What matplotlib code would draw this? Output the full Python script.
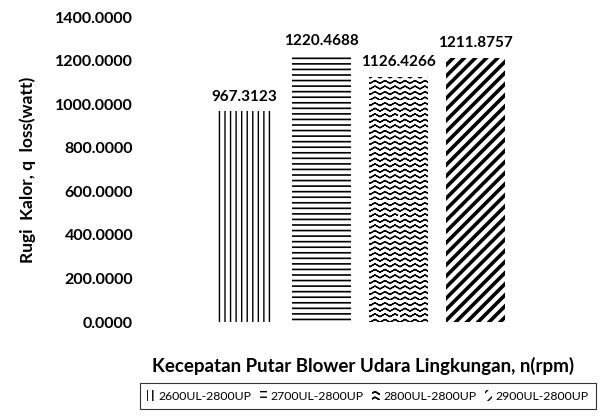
import numpy as np
import matplotlib
matplotlib.use("Agg")
import matplotlib.pyplot as plt
from matplotlib import hatch as mhatch
from matplotlib.path import Path

# data
series = ["2600UL-2800UP", "2700UL-2800UP", "2800UL-2800UP", "2900UL-2800UP"]
values = [967.3123, 1220.4688, 1126.4266, 1211.8757]
yticks = [0, 200, 400, 600, 800, 1000, 1200, 1400]


# zigzag hatch (the wavy fill of the third bar), hijacks the '*' character
# each row goes out and back along itself so the Agg hatch fill has no area
class ZigZagHatch(mhatch.HatchPatternBase):
    def __init__(self, hatch, density):
        self.num_lines = int(hatch.count('*') * density)
        self.num_seg = 20
        self.num_vertices = self.num_lines * 2 * (self.num_seg + 1)

    def set_vertices_and_codes(self, vertices, codes):
        k = self.num_seg + 1
        xs = np.linspace(0, 1, k)
        offs = np.where(np.arange(k) % 2 == 0, 0.0, 0.028)
        xs = np.concatenate([xs, xs[::-1]])
        offs = np.concatenate([offs, offs[::-1]])
        steps = np.linspace(0, 1, self.num_lines, endpoint=False)
        n = 2 * k
        for i, y in enumerate(steps):
            vertices[i * n:(i + 1) * n, 0] = xs
            vertices[i * n:(i + 1) * n, 1] = y + offs
        codes[:] = Path.LINETO
        codes[::n] = Path.MOVETO


mhatch._hatch_types = [h for h in mhatch._hatch_types if h is not mhatch.Stars] + [ZigZagHatch]

plt.rcParams['font.family'] = ['Lato', 'DejaVu Sans']
plt.rcParams['hatch.linewidth'] = 1.0

hatches = ['|||', '---', '***', '///']
hatch_lw = [1.0, 1.2, 0.9, 2.6]

fig = plt.figure(figsize=(6.01, 4.16), dpi=100)
W, H = 601, 416
ax = fig.add_axes([140 / W, (H - 322) / H, 440 / W, 305 / H])

step = 0.175
width = 0.132
offsets = (np.arange(len(values)) - 1.5) * step

for i, (name, v) in enumerate(zip(series, values)):
    bars = ax.bar(offsets[i], v, width=width, facecolor='white', edgecolor='black',
                  linewidth=0, hatch=hatches[i], label=name)
    for b in bars:
        if hasattr(b, 'set_hatch_linewidth'):
            b.set_hatch_linewidth(hatch_lw[i])
    ax.text(offsets[i], v + 35, f"{v:.4f}", ha='center', va='bottom',
            fontsize=11, fontweight='bold')

ax.set_xlim(-0.5, 0.5)
ax.set_ylim(0, 1400)
ax.set_yticks(yticks)
ax.set_yticklabels([f"{t:.4f}" for t in yticks], fontsize=11.5, fontweight='bold')
ax.tick_params(axis='y', length=0, pad=5)
ax.set_xticks([])
for s in ax.spines.values():
    s.set_visible(False)

fig.text(28 / W, 1 - 170 / H, "Rugi  Kalor, q  loss(watt)", rotation=90,
         ha='center', va='center', fontsize=12.5, fontweight='bold')
fig.text(363 / W, 1 - 366 / H, "Kecepatan Putar Blower Udara Lingkungan, n(rpm)",
         ha='center', va='center', fontsize=13.5, fontweight='bold')

leg = fig.legend(loc='center', bbox_to_anchor=(368 / W, 1 - 396 / H), ncol=4,
                 frameon=True, fancybox=False, edgecolor='black', fontsize=8.8,
                 handlelength=0.6, handleheight=0.9, handletextpad=0.3,
                 columnspacing=0.7, borderpad=0.6)
leg.get_frame().set_linewidth(0.8)

fig.savefig("out.png", dpi=100)
